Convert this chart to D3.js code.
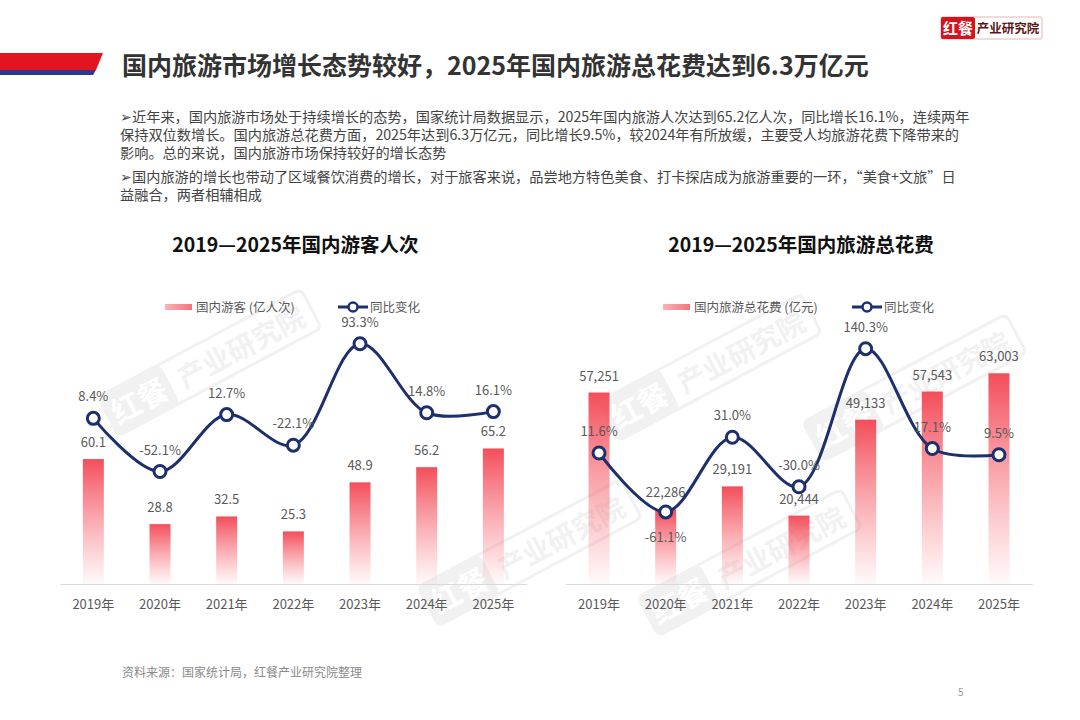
<!DOCTYPE html>
<html>
<head>
<meta charset="utf-8">
<script src="https://cdn.jsdelivr.net/npm/d3@7/dist/d3.min.js"></script>
<style>
  body { margin: 0; background: #fff; }
  svg { display: block; font-family: "Noto Sans CJK SC", "Noto Sans", sans-serif; }
</style>
</head>
<body>
<svg id="page"></svg>
<script>
// ---- data ----
const years = ['2019年', '2020年', '2021年', '2022年', '2023年', '2024年', '2025年'];
const touristTrips = [60.1, 28.8, 32.5, 25.3, 48.9, 56.2, 65.2];      // 亿人次
const tripsYoY = [8.4, -52.1, 12.7, -22.1, 93.3, 14.8, 16.1];           // %
const tourismSpend = [57251, 22286, 29191, 20444, 49133, 57543, 63003]; // 亿元
const spendYoY = [11.6, -61.1, 31.0, -30.0, 140.3, 17.1, 9.5];          // %

const pageTitle = '国内旅游市场增长态势较好，2025年国内旅游总花费达到6.3万亿元';
const paraLines = [
  '➢近年来，国内旅游市场处于持续增长的态势，国家统计局数据显示，2025年国内旅游人次达到65.2亿人次，同比增长16.1%，连续两年',
  '保持双位数增长。国内旅游总花费方面，2025年达到6.3万亿元，同比增长9.5%，较2024年有所放缓，主要受人均旅游花费下降带来的',
  '影响。总的来说，国内旅游市场保持较好的增长态势',
  '➢国内旅游的增长也带动了区域餐饮消费的增长，对于旅客来说，品尝地方特色美食、打卡探店成为旅游重要的一环，“美食+文旅”日',
  '益融合，两者相辅相成'
];
const sourceNote = '资料来源：国家统计局，红餐产业研究院整理';

// plain hyphen for negatives, like the source
const loc = d3.formatLocale({decimal: '.', thousands: ',', grouping: [3], currency: ['', ''], minus: '-'});
const fmt1 = loc.format('.1f');
const fmtK = loc.format(',');

const svg = d3.select('#page').attr('width', 1080).attr('height', 720);

// ---- gradients ----
const defs = svg.append('defs');
const barGrad = defs.append('linearGradient').attr('id', 'barGrad')
  .attr('x1', 0).attr('y1', 0).attr('x2', 0).attr('y2', 1);
barGrad.append('stop').attr('offset', '0%').attr('stop-color', '#f34e5a').attr('stop-opacity', 1);
barGrad.append('stop').attr('offset', '100%').attr('stop-color', '#f7707a').attr('stop-opacity', 0.04);
const legGrad = defs.append('linearGradient').attr('id', 'legGrad')
  .attr('x1', 0).attr('y1', 0).attr('x2', 1).attr('y2', 0);
legGrad.append('stop').attr('offset', '0%').attr('stop-color', '#f9b3b8');
legGrad.append('stop').attr('offset', '100%').attr('stop-color', '#f4737c');

// ---- watermarks ----
function watermark(x, y) {
  const g = svg.append('g')
    .attr('transform', `translate(${x},${y}) rotate(-28)`)
    .attr('opacity', 0.05);
  g.append('rect').attr('x', 0).attr('y', -26).attr('width', 230).attr('height', 44)
    .attr('rx', 6).attr('fill', 'none').attr('stroke', '#000').attr('stroke-width', 3);
  g.append('rect').attr('x', 0).attr('y', -26).attr('width', 70).attr('height', 44)
    .attr('rx', 6).attr('fill', '#000');
  g.append('text').attr('x', 35).attr('y', 8).attr('text-anchor', 'middle')
    .attr('font-size', 30).attr('font-weight', 700).attr('fill', '#fff').text('红餐');
  g.append('text').attr('x', 150).attr('y', 8).attr('text-anchor', 'middle')
    .attr('font-size', 28).attr('font-weight', 700).attr('fill', '#000').text('产业研究院');
}
[[110, 420], [430, 610], [610, 425], [650, 620], [815, 445]]
  .forEach(p => watermark(p[0], p[1]));

// ---- header ----
svg.append('polygon').attr('points', '0,53 103,53 96,70 0,70').attr('fill', '#e1141f');
svg.append('polygon').attr('points', '0,70 96,70 93,75 0,75').attr('fill', '#2a3a8f');
svg.append('text').attr('x', 122).attr('y', 74.5)
  .attr('font-size', 25).attr('font-weight', 700).attr('fill', '#333')
  .text(pageTitle);

// logo
svg.append('rect').attr('x', 941).attr('y', 17).attr('width', 101).attr('height', 22)
  .attr('rx', 2).attr('fill', '#fff').attr('stroke', '#e3b5b5');
svg.append('rect').attr('x', 941).attr('y', 17).attr('width', 34).attr('height', 22)
  .attr('rx', 2).attr('fill', '#d8121c');
svg.append('text').attr('x', 958).attr('y', 33.5).attr('text-anchor', 'middle')
  .attr('font-size', 15).attr('font-weight', 700).attr('fill', '#fff').text('红餐');
svg.append('text').attr('x', 1008).attr('y', 32.5).attr('text-anchor', 'middle')
  .attr('font-size', 12.5).attr('font-weight', 700).attr('fill', '#5a1717').text('产业研究院');

// paragraph
const paraY = [122, 140, 158, 182, 200];
svg.append('g').selectAll('text')
  .data(paraLines)
  .join('text')
  .attr('x', 120)
  .attr('y', (d, i) => paraY[i])
  .attr('font-size', 14.2)
  .attr('fill', '#444')
  .text(d => d);

// footer
svg.append('text').attr('x', 122).attr('y', 677).attr('font-size', 12)
  .attr('fill', '#8a8a8a').text(sourceNote);
svg.append('text').attr('x', 958).attr('y', 696).attr('font-size', 10)
  .attr('fill', '#999').text('5');

// ---- combo chart ----
class ComboChart {

  constructor(_config, _bars, _rates) {
    this.config = {
      left: _config.left,
      right: _config.right,
      top: 293,
      bottom: 584,
      title: _config.title,
      barLegend: _config.barLegend,
      legendX: _config.legendX,
      lineLegendX: _config.lineLegendX,
      barMax: _config.barMax,
      rateDomain: _config.rateDomain,
      barFormat: _config.barFormat,
      minLabelBelow: _config.minLabelBelow || false
    }
    this.bars = _bars;
    this.rates = _rates;
    this.initVis();
  }

  initVis() {
    let vis = this;
    vis.chart = svg.append('g');

    vis.x = d3.scaleBand()
      .domain(years)
      .range([vis.config.left, vis.config.right])
      .padding(0);

    vis.yBar = d3.scaleLinear()
      .domain([0, vis.config.barMax])
      .range([vis.config.bottom, vis.config.top]);

    vis.yRate = d3.scaleLinear()
      .domain(vis.config.rateDomain)
      .range([vis.config.bottom, vis.config.top]);

    vis.barW = 21;
    vis.cx = d => vis.x(d) + vis.x.bandwidth() / 2;

    vis.renderVis();
  }

  renderVis() {
    let vis = this;
    const mid = (vis.config.left + vis.config.right) / 2;

    vis.chart.append('text')
      .attr('x', mid + 2).attr('y', 252)
      .attr('text-anchor', 'middle')
      .attr('font-size', 19.5).attr('font-weight', 700).attr('fill', '#111')
      .text(vis.config.title);

    // legend
    const lx = vis.config.legendX;
    vis.chart.append('rect').attr('x', lx).attr('y', 304).attr('width', 27).attr('height', 6)
      .attr('fill', 'url(#legGrad)');
    vis.chart.append('text').attr('x', lx + 31).attr('y', 311.5)
      .attr('font-size', 12.5).attr('fill', '#595959').text(vis.config.barLegend);
    const l2 = vis.config.lineLegendX;
    vis.chart.append('line').attr('x1', l2).attr('x2', l2 + 30).attr('y1', 307).attr('y2', 307)
      .attr('stroke', '#1d2f6c').attr('stroke-width', 3);
    vis.chart.append('circle').attr('cx', l2 + 15).attr('cy', 307).attr('r', 4.5)
      .attr('fill', '#fff').attr('stroke', '#1d2f6c').attr('stroke-width', 2.5);
    vis.chart.append('text').attr('x', l2 + 32).attr('y', 311.5)
      .attr('font-size', 12.5).attr('fill', '#595959').text('同比变化');

    // axis
    const xAxis = d3.axisBottom(vis.x).tickSize(0).tickPadding(16);
    const ax = vis.chart.append('g')
      .attr('transform', `translate(0,${vis.config.bottom})`)
      .call(xAxis);
    ax.select('.domain').attr('stroke', '#d9d9d9');
    ax.selectAll('text')
      .attr('font-size', 13).attr('fill', '#595959')
      .attr('font-family', '"Noto Sans CJK SC", sans-serif');

    // bars
    const rows = years.map((y, i) => ({year: y, bar: vis.bars[i], rate: vis.rates[i]}));
    vis.chart.selectAll('rect.bar')
      .data(rows)
      .join('rect')
      .attr('class', 'bar')
      .attr('x', d => vis.cx(d.year) - vis.barW / 2)
      .attr('y', d => vis.yBar(d.bar))
      .attr('width', vis.barW)
      .attr('height', d => vis.config.bottom - vis.yBar(d.bar))
      .attr('fill', 'url(#barGrad)');

    vis.chart.selectAll('text.barLabel')
      .data(rows)
      .join('text')
      .attr('class', 'barLabel')
      .attr('x', d => vis.cx(d.year))
      .attr('y', d => vis.yBar(d.bar) - 12)
      .attr('text-anchor', 'middle')
      .attr('font-size', 13).attr('fill', '#595959')
      .text(d => vis.config.barFormat(d.bar));

    // line
    const line = d3.line()
      .x(d => vis.cx(d.year))
      .y(d => vis.yRate(d.rate))
      .curve(d3.curveCatmullRom.alpha(0.5));

    vis.chart.append('path')
      .datum(rows)
      .attr('d', line)
      .attr('fill', 'none')
      .attr('stroke', '#1d2f6c')
      .attr('stroke-width', 3);

    vis.chart.selectAll('circle.pt')
      .data(rows)
      .join('circle')
      .attr('class', 'pt')
      .attr('cx', d => vis.cx(d.year))
      .attr('cy', d => vis.yRate(d.rate))
      .attr('r', 6)
      .attr('fill', '#fff')
      .attr('stroke', '#1d2f6c')
      .attr('stroke-width', 3);

    const minRate = d3.min(vis.rates);
    vis.chart.selectAll('text.rateLabel')
      .data(rows)
      .join('text')
      .attr('class', 'rateLabel')
      .attr('x', d => vis.cx(d.year))
      .attr('y', d => (vis.config.minLabelBelow && d.rate === minRate)
        ? vis.yRate(d.rate) + 30
        : vis.yRate(d.rate) - 17)
      .attr('text-anchor', 'middle')
      .attr('font-size', 13).attr('fill', '#595959')
      .text(d => fmt1(d.rate) + '%');
  }
}

new ComboChart({
  left: 60, right: 526.7,
  title: '2019—2025年国内游客人次',
  barLegend: '国内游客 (亿人次)',
  legendX: 165,
  lineLegendX: 338,
  barMax: 140,
  rateDomain: [-180, 151],
  barFormat: fmt1
}, touristTrips, tripsYoY);

new ComboChart({
  left: 565.7, right: 1032.3,
  title: '2019—2025年国内旅游总花费',
  barLegend: '国内旅游总花费 (亿元)',
  legendX: 663,
  lineLegendX: 852,
  barMax: 87000,
  rateDomain: [-150, 209],
  barFormat: fmtK,
  minLabelBelow: true
}, tourismSpend, spendYoY);
</script>
</body>
</html>
